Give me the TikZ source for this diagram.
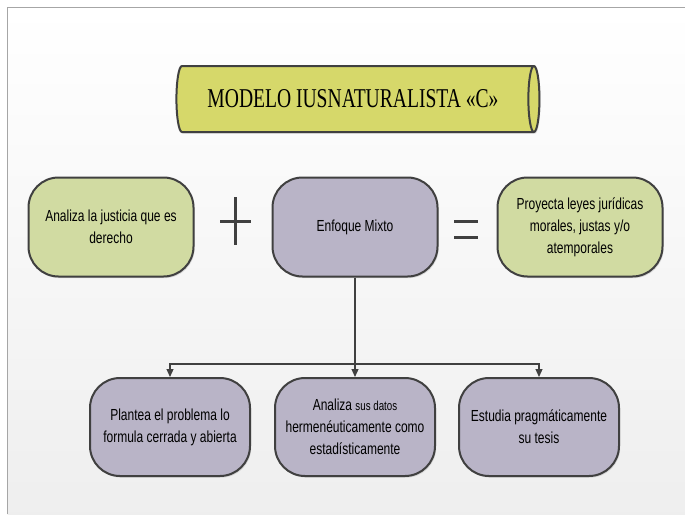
\documentclass[tikz,border=0pt]{standalone}
\usepackage{fontspec}
\setmainfont{Liberation Sans}[FakeStretch=0.75]
\newfontfamily\titlefont{Liberation Serif}[FakeStretch=0.72]
\usetikzlibrary{positioning, shapes.geometric, arrows.meta, shadows}

\definecolor{titleyellow}{RGB}{214,216,106}
\definecolor{greenbox}{RGB}{209,219,162}
\definecolor{lilac}{RGB}{185,180,199}
\definecolor{edge}{RGB}{64,64,64}

\tikzset{
  box/.style={rectangle, rounded corners=15pt, draw=edge, line width=1pt,
    align=center, font=\fontsize{8}{11}\selectfont,
    drop shadow={shadow xshift=0.6pt, shadow yshift=-0.8pt, opacity=0.25}},
  goal/.style={box, fill=greenbox, minimum width=82.5pt, minimum height=49.5pt},
  mixbox/.style={box, fill=lilac, minimum width=82.5pt, minimum height=49.5pt},
  leaf/.style={box, fill=lilac, minimum width=80pt, minimum height=49pt},
  sign/.style={edge, line width=1.5pt},
  arrow/.style={edge, line width=0.6pt, -{Triangle[length=4pt,width=3.5pt]}}
}

\begin{document}
\begin{tikzpicture}[x=0.5pt, y=-0.5pt, node distance=4cm, on grid]
   \useasboundingbox (0,0) rectangle (685,514);
   \fill[top color=white, bottom color=gray!13] (7.5,7.5) rectangle (685,514);
   \draw[gray!70, line width=0.6pt] (7.5,514) -- (7.5,7.5) -- (685,7.5);

   \node[cylinder, shape border rotate=0, aspect=0.35, draw=edge, line width=1pt,
     fill=titleyellow, minimum width=33pt, minimum height=181.5pt,
     drop shadow={shadow xshift=0.6pt, shadow yshift=-0.8pt, opacity=0.25},
     font=\titlefont\fontsize{13.6}{16}\selectfont] (title) at (353,99)
     {MODELO IUSNATURALISTA «C»};

   \node[mixbox] (mix) at (355,227) {Enfoque Mixto};
   \node[goal] (analiza) [left=122pt of mix] {Analiza la justicia que es\\derecho};
   \node[goal] (proyecta) [right=112.5pt of mix] {Proyecta leyes jurídicas\\morales, justas y/o\\atemporales};

   \node[leaf] (mid) [below=100pt of mix]
     {Analiza {\fontsize{6.5}{11}\selectfont sus datos}\\hermenéuticamente como\\estadísticamente};
   \node[leaf] (plantea) [left=92.5pt of mid] {Plantea el problema lo\\formula cerrada y abierta};
   \node[leaf] (estudia) [right=92pt of mid] {Estudia pragmáticamente\\su tesis};

   % plus and equals
   \draw[sign] (235,197) -- (235,245) (220,221) -- (251,221);
   \draw[sign] (454,221) -- (478,221) (454,237) -- (478,237);

   \coordinate (split) at (mix.south |- 0,364);
   \draw[edge, line width=0.8pt] (mix.south) -- (split);
   \foreach \n in {plantea, mid, estudia}
     \draw[arrow] (split) -| (\n.north);
\end{tikzpicture}
\end{document}
